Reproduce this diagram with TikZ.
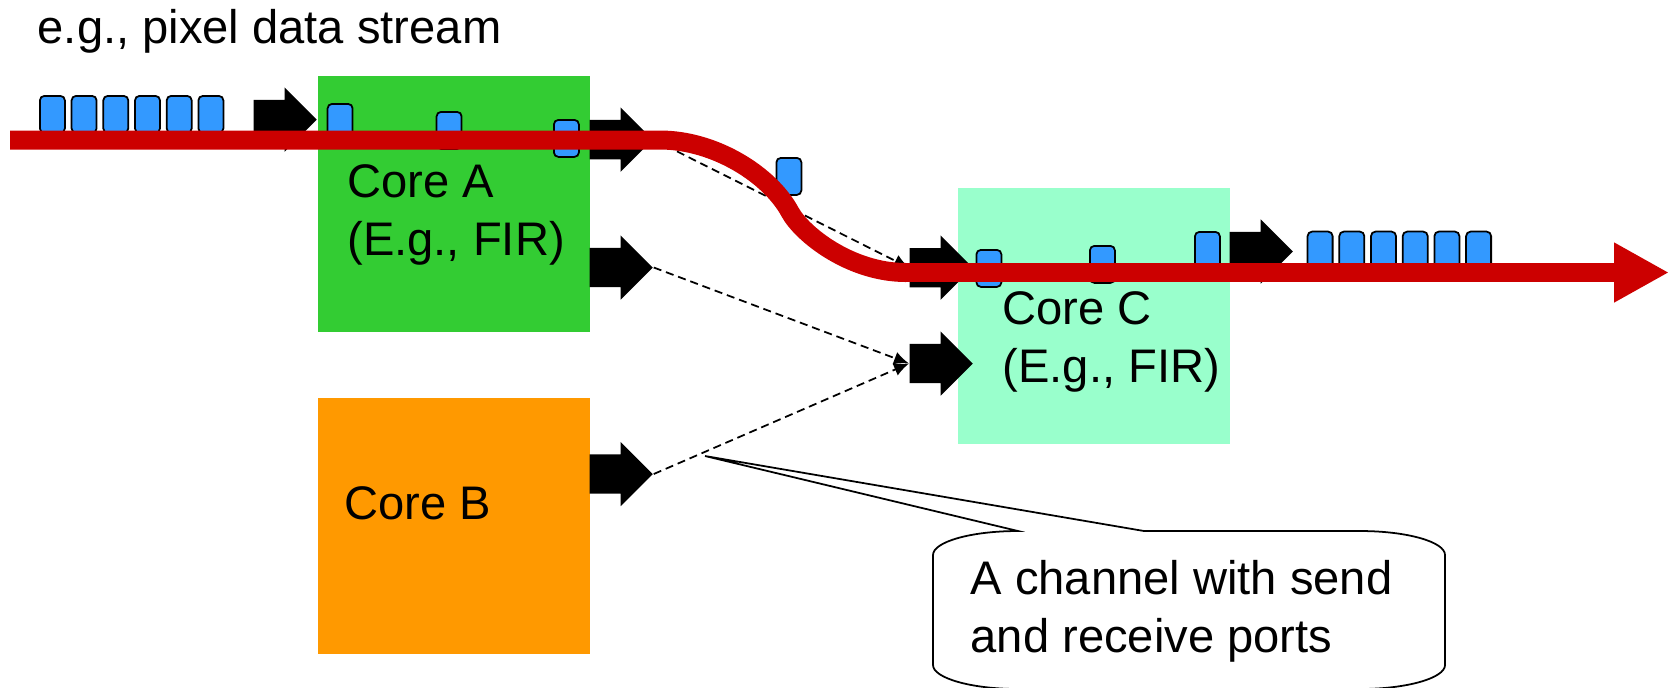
\documentclass[tikz,border=0pt]{standalone}
\usepackage{fontspec}
\setmainfont{Liberation Sans}
\usepackage{tikz}
\usetikzlibrary{positioning}
\usetikzlibrary{shapes,arrows.meta,calc}
\definecolor{coregreen}{HTML}{33CC33}
\definecolor{coreorange}{HTML}{FF9900}
\definecolor{coremint}{HTML}{99FFCC}
\definecolor{pktblue}{HTML}{3399FF}
\definecolor{streamred}{HTML}{CC0000}
\tikzset{
	core/.style = {rectangle, minimum width=2.72cm, minimum height=2.56cm, inner sep=0pt},
	coretext/.style = {align=left, inner sep=0pt, font=\fontsize{13.4pt}{16.5pt}\selectfont},
	packet/.style = {rectangle, rounded corners=0.045cm, draw=black, line width=0.5pt,
	 fill=pktblue, minimum width=0.25cm, minimum height=0.37cm, inner sep=0pt, anchor=north west},
	blockarrow/.style = {single arrow, fill=black, inner xsep=0pt, inner ysep=0.19cm,
	 single arrow head extend=0.125cm, minimum height=0.63cm, anchor=tail},
	channel/.style = {line width=0.5pt, dash pattern=on 2.3pt off 1.4pt,
	 -{Latex[length=1.5mm,width=1.3mm]}},
	stream/.style = {line width=0.19cm, draw=streamred},
}
\begin{document}
\begin{tikzpicture}[x=0.01cm, y=-0.01cm]
	\useasboundingbox (0,0) rectangle (1671,687);
	\node (title) [coretext, anchor=base west] at (37,43) {e.g., pixel data stream};
	\node (coreA) [core, fill=coregreen, anchor=north west] at (317,75) {};
	\node (coreB) [core, fill=coreorange, below=0.645cm of coreA] {};
	\node (coreC) [core, fill=coremint, anchor=north west] at (957,187) {};
	\node (labA) [coretext, below right=0.885cm and 0.297cm of coreA.north west] {Core A\\(E.g., FIR)};
	\node (labB) [coretext, below right=0.891cm and 0.265cm of coreB.north west] {Core B};
	\node (labC) [coretext, below right=1.038cm and 0.45cm of coreC.north west] {Core C\\(E.g., FIR)};
	% ports
	\node (inA) [blockarrow] at (253,119.6) {};
	\node (outA1) [blockarrow] at (589,139.7) {};
	\node (outA2) [blockarrow] at (589,267.5) {};
	\node (outB) [blockarrow] at (589,474) {};
	\node (inC1) [blockarrow] at (909,267.7) {};
	\node (inC2) [blockarrow] at (909,363.5) {};
	\node (outC) [blockarrow] at (1229,251.5) {};
	% packets
	\foreach \i in {0,...,5}
		\node (inpkt\i) [packet] at ({39+31.7*\i},95) {};
	\node (pktA1) [packet] at (326.7,103) {};
	\node (pktA2) [packet] at (435.7,111) {};
	\node (pktA3) [packet] at (553,119) {};
	\node (pktAC) [packet] at (775.5,157) {};
	\node (pktC1) [packet] at (975.5,249) {};
	\node (pktC2) [packet] at (1089,245) {};
	\node (pktC3) [packet] at (1194,231) {};
	\foreach \i in {0,...,5}
		\node (outpkt\i) [packet] at ({1306.7+31.7*\i},230.7) {};
	% channels
	\draw[channel] (outA1.tip) -- (inC1.tail);
	\draw[channel] (outA2.tip) -- (inC2.tail);
	\draw[channel] (outB.tip) -- (inC2.tail);
	% stream
	\coordinate (s0) at (10,140);
	\coordinate (s1) at (660,140);
	\coordinate (sm) at (790,212);
	\coordinate (s2) at (906,272.5);
	\coordinate (s3) at (1669,272.5);
	\draw[stream] (s0) -- (s1) .. controls (715,140) and (770,175) .. (sm)
	 .. controls (802,234) and (850,272.5) .. (s2);
	\draw[stream, -{Triangle[length=0.55cm,width=0.56cm]}] (s2) -- (s3);
	% callout
	\coordinate (ptr) at (705,456);
	\draw[line width=0.5pt, fill=white] (933,555) .. controls (933,541.8) and (971,531) .. (1018,531)
	 -- (ptr) -- (1144,531) -- (1360,531) .. controls (1407,531) and (1445,541.8) .. (1445,555)
	 -- (1445,665) .. controls (1445,678) and (1407,689) .. (1360,689) -- (1018,689)
	 .. controls (971,689) and (933,678) .. (933,665) -- cycle;
	\node (note) [coretext, anchor=north west] at (970,560) {A channel with send\\and receive ports};
\end{tikzpicture}
\end{document}
